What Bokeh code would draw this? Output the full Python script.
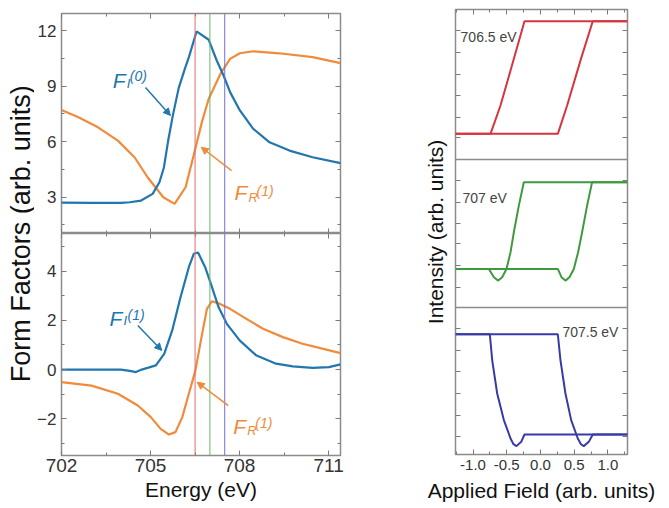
import numpy as np
from math import pi
from bokeh.plotting import figure
from bokeh.layouts import row, column
from bokeh.models import (Range1d, LinearAxis, FixedTicker, Span, Label, Arrow,
                          NormalHead, PrintfTickFormatter)
from bokeh.embed import file_html
from bokeh.resources import INLINE

# ---------------- data ----------------
energy_ticks = [702, 705, 708, 711]
energy_minor = [703.5, 706.5, 709.5]
top_ticks = [3, 6, 9, 12]
top_minor = [1.5, 4.5, 7.5, 10.5]
bot_ticks = [-2, 0, 2, 4]
bot_minor = [-3, -1, 1, 3, 5]

# F_I^(0)  (upper panel, blue)
fi0_E = [702.0, 703.0, 704.0, 704.3, 704.68, 705.07, 705.3, 705.45, 705.6, 705.75,
         705.95, 706.15, 706.3, 706.55, 706.96, 707.23, 707.46, 707.68, 708.01,
         708.46, 709.01, 709.68, 710.46, 711.4]
fi0_V = [2.70, 2.69, 2.69, 2.72, 2.81, 3.17, 3.8, 4.6, 6.1, 7.4,
         8.9, 9.9, 10.6, 11.95, 11.5, 10.38, 9.57, 8.67, 7.68,
         6.69, 5.96, 5.51, 5.15, 4.83]
# F_R^(1)  (upper panel, orange)
fr1a_E = [702.0, 702.57, 703.23, 703.9, 704.46, 704.9, 705.43, 705.81, 706.18,
          706.46, 706.73, 706.96, 707.37, 707.68, 708.01, 708.46, 709.34, 710.46, 711.4]
fr1a_V = [7.71, 7.31, 6.77, 6.05, 5.15, 4.07, 2.99, 2.63, 3.53,
          5.3, 7.05, 8.31, 9.7, 10.47, 10.77, 10.88, 10.77, 10.56, 10.24]
# F_I^(1)  (lower panel, blue)
fi1_E = [702.0, 703.0, 704.0, 704.3, 704.51, 704.7, 704.9, 705.18, 705.46, 705.73,
         706.01, 706.29, 706.46, 706.6, 706.84, 707.07, 707.29, 707.57, 708.01,
         708.57, 709.23, 709.79, 710.46, 711.01, 711.4]
fi1_V = [0.0, 0.0, 0.0, -0.05, -0.1, 0.0, 0.07, 0.17, 0.64, 1.59,
         2.94, 4.16, 4.71, 4.76, 4.16, 3.35, 2.54, 1.86, 1.18,
         0.57, 0.24, 0.13, 0.07, 0.10, 0.21]
# F_R^(1)  (lower panel, orange)
fr1b_E = [702.0, 703.01, 703.9, 704.57, 705.01, 705.34, 705.62, 705.84, 706.07,
          706.29, 706.51, 706.73, 706.9, 707.07, 707.34, 707.68, 708.23, 708.79,
          709.46, 710.12, 710.79, 711.4]
fr1b_V = [-0.51, -0.65, -0.98, -1.46, -1.93, -2.41, -2.64, -2.54, -1.93,
          -0.98, -0.04, 1.4, 2.47, 2.78, 2.67, 2.47, 2.06, 1.66,
          1.32, 1.05, 0.85, 0.67]

marker_E = [706.5, 707.0, 707.5]
marker_colors = ["#e06a6a", "#6ab56a", "#6f6fd0"]

# hysteresis loops (field, normalised intensity within each panel)
field_ticks = [-1.0, -0.5, 0.0, 0.5, 1.0]
field_minor = [-1.25, -0.75, -0.25, 0.25, 0.75, 1.25]
loop_labels = ["706.5 eV", "707 eV", "707.5 eV"]
loop_colors = ["#d6343e", "#3f9a3f", "#3a3aa6"]

red_up_x = [-1.26, 0.257, 0.395, 0.60, 0.775, 1.29]
red_up_y = [0.171, 0.171, 0.36, 0.671, 0.922, 0.922]
red_dn_x = [1.29, -0.237, -0.395, -0.593, -0.741, -1.26]
red_dn_y = [0.922, 0.922, 0.671, 0.36, 0.171, 0.171]

green_up_x = [-1.26, 0.257, 0.311, 0.370, 0.43, 0.494, 0.558, 0.617, 0.691, 0.765, 1.29]
green_up_y = [0.261, 0.261, 0.205, 0.182, 0.205, 0.261, 0.374, 0.509, 0.689, 0.847, 0.847]
green_dn_x = [1.29, -0.247, -0.321, -0.395, -0.444, -0.504, -0.568, -0.627, -0.691, -0.765, -1.26]
green_dn_y = [0.847, 0.847, 0.689, 0.509, 0.374, 0.261, 0.205, 0.182, 0.205, 0.261, 0.261]

blue_a_x = [-1.26, 0.257, 0.296, 0.37, 0.455, 0.553, 0.60, 0.642, 0.716, 0.775, 1.29]
blue_a_y = [0.818, 0.818, 0.642, 0.415, 0.234, 0.109, 0.07, 0.057, 0.086, 0.136, 0.136]
blue_b_x = [-1.26, -0.751, -0.716, -0.642, -0.543, -0.444, -0.40, -0.356, -0.286, -0.237, 1.29]
blue_b_y = [0.818, 0.818, 0.642, 0.415, 0.234, 0.109, 0.07, 0.057, 0.086, 0.136, 0.136]

# annotation anchors (data units) : label (x, y), arrow start, arrow end
ann_top_I = dict(x=703.73, y=9.30, sx=704.83, sy=8.92, ex=705.67, ey=7.41)
ann_top_R = dict(x=707.83, y=3.24, sx=707.73, sy=4.43, ex=706.71, ey=5.69)
ann_bot_I = dict(x=703.62, y=2.08, sx=704.57, sy=1.79, ex=705.38, ey=0.78)
ann_bot_R = dict(x=707.79, y=-2.31, sx=707.62, sy=-1.46, ex=706.57, ey=-0.51)

# ---------------- styling ----------------
FONT = "Liberation Sans"
BLUE = "#2276ae"
ORANGE = "#ef8b3a"
FRAME = "#8c8c8c"
TICK = "#7a7a7a"


def base_fig(w, h, xr, yr, **borders):
    p = figure(width=w, height=h, x_range=xr, y_range=yr, toolbar_location=None,
               output_backend="svg", x_axis_location=None, y_axis_location=None,
               **borders)
    p.outline_line_color = FRAME
    p.outline_line_width = 1.5
    p.background_fill_color = "white"
    p.border_fill_color = "white"
    for g in p.grid:
        g.visible = False
    return p


def add_axis(p, side, ticks, minor, labels=False, size="17px", standoff=4,
             label=None, label_size="21px", label_standoff=5, fmt=None,
             range_name=None):
    ax = LinearAxis(ticker=FixedTicker(ticks=ticks, minor_ticks=minor))
    if range_name is not None:
        ax.y_range_name = range_name
    ax.axis_line_color = None
    ax.major_tick_in = 5
    ax.major_tick_out = 0
    ax.minor_tick_in = 3
    ax.minor_tick_out = 0
    ax.major_tick_line_color = TICK
    ax.minor_tick_line_color = TICK
    ax.major_tick_line_width = 1
    if labels:
        ax.major_label_text_font = FONT
        ax.major_label_text_font_size = size
        ax.major_label_text_color = "#333333"
        ax.major_label_standoff = standoff
        if fmt is not None:
            ax.formatter = fmt
    else:
        # tick marks only: labels are neither sized nor painted
        ax.major_label_text_font_size = "0px"
        ax.major_label_text_color = None
        ax.major_label_text_alpha = 0
        ax.major_label_standoff = 0
    if label is not None:
        ax.axis_label = label
        ax.axis_label_text_font = FONT
        ax.axis_label_text_font_size = label_size
        ax.axis_label_text_font_style = "normal"
        ax.axis_label_text_color = "#111111"
        ax.axis_label_standoff = label_standoff
    p.add_layout(ax, side)
    return ax


def add_annotation(p, a, color, sub, sup, sub_dx, sub_dy, sup_dx, sup_dy):
    p.add_layout(Label(x=a["x"], y=a["y"], text="F", text_font=FONT,
                       text_font_size="21px", text_font_style="italic",
                       text_color=color, text_baseline="alphabetic"))
    p.add_layout(Label(x=a["x"], y=a["y"], x_offset=sub_dx, y_offset=sub_dy, text=sub,
                       text_font=FONT, text_font_size="13px", text_font_style="italic",
                       text_color=color, text_baseline="alphabetic"))
    p.add_layout(Label(x=a["x"], y=a["y"], x_offset=sup_dx, y_offset=sup_dy, text=sup,
                       text_font=FONT, text_font_size="14px", text_font_style="italic",
                       text_color=color, text_baseline="alphabetic"))
    p.add_layout(Arrow(end=NormalHead(size=7, fill_color=color, line_color=color),
                       x_start=a["sx"], y_start=a["sy"], x_end=a["ex"], y_end=a["ey"],
                       line_color=color, line_width=1.5))


# ---------------- y-label strip for the left plot ----------------
lab = figure(width=34, height=508, x_range=Range1d(0, 34), y_range=Range1d(0, 508),
             toolbar_location=None, output_backend="svg", x_axis_location=None,
             y_axis_location=None, min_border=0)
lab.outline_line_color = None
for g in lab.grid:
    g.visible = False
lab.add_layout(Label(x=20, y=252, text="Form Factors (arb. units)", angle=pi / 2,
                     text_align="center", text_baseline="middle", text_font=FONT,
                     text_font_size="27px", text_color="#111111"))

# ---------------- upper left panel ----------------
tl = base_fig(311, 233, Range1d(702, 711.4), Range1d(1.03, 12.92),
              min_border_left=24, min_border_right=5, min_border_top=13, min_border_bottom=0)
add_axis(tl, "left", top_ticks, top_minor, labels=True, size="17px", standoff=5)
add_axis(tl, "right", top_ticks, top_minor)
add_axis(tl, "above", energy_ticks, energy_minor)
add_axis(tl, "below", energy_ticks, energy_minor)
for e, c in zip(marker_E, marker_colors):
    tl.add_layout(Span(location=e, dimension="height", line_color=c, line_width=1))
tl.line(fr1a_E, fr1a_V, line_color=ORANGE, line_width=2.2)
tl.line(fi0_E, fi0_V, line_color=BLUE, line_width=2.2)
add_annotation(tl, ann_top_I, BLUE, "I", "(0)", 14, -3, 17, 4)
add_annotation(tl, ann_top_R, ORANGE, "R", "(1)", 14, -5, 22, 2)

# ---------------- lower left panel ----------------
bl = base_fig(311, 275, Range1d(702, 711.4), Range1d(-3.49, 5.53),
              min_border_left=24, min_border_right=5, min_border_top=0, min_border_bottom=53)
add_axis(bl, "left", bot_ticks, bot_minor, labels=True, size="17px", standoff=5)
add_axis(bl, "right", bot_ticks, bot_minor)
add_axis(bl, "above", energy_ticks, energy_minor)
add_axis(bl, "below", energy_ticks, energy_minor, labels=True, size="19px", standoff=3,
         label="Energy (eV)", label_size="21px", label_standoff=3)
for e, c in zip(marker_E, marker_colors):
    bl.add_layout(Span(location=e, dimension="height", line_color=c, line_width=1))
bl.line(fr1b_E, fr1b_V, line_color=ORANGE, line_width=2.2)
bl.line(fi1_E, fi1_V, line_color=BLUE, line_width=2.2)
add_annotation(bl, ann_bot_I, BLUE, "I", "(1)", 14, -2, 18, 3)
add_annotation(bl, ann_bot_R, ORANGE, "R", "(1)", 14, -4, 22, 3)

# ---------------- right plot: three stacked loops ----------------
rp = base_fig(322, 508, Range1d(-1.26, 1.29), Range1d(0, 3.027),
              min_border_left=110, min_border_right=40, min_border_top=9, min_border_bottom=54)
rp.extra_y_ranges = {"p1": Range1d(-1.967, 1.0), "p2": Range1d(-0.993, 2.014),
                     "p3": Range1d(0, 3.027)}
ytick_pos = [0.12, 0.268, 0.415, 0.563, 0.71, 0.857, 1.138, 1.286, 1.435, 1.571,
             1.716, 1.864, 2.156, 2.293, 2.442, 2.588, 2.735, 2.881]
add_axis(rp, "left", ytick_pos, [], label="Intensity (arb. units)", label_size="21px",
         label_standoff=9)
add_axis(rp, "right", ytick_pos, [])
add_axis(rp, "above", field_ticks, field_minor)
add_axis(rp, "below", field_ticks, field_minor, labels=True, size="15px", standoff=5,
         label="Applied Field (arb. units)", label_size="21px", label_standoff=6,
         fmt=PrintfTickFormatter(format="%.1f"))
for rn in ["p2", "p3"]:
    rp.add_layout(Span(location=1.0, dimension="width", y_range_name=rn,
                       line_color=FRAME, line_width=1.5))

rp.line(red_up_x, red_up_y, y_range_name="p1", line_color=loop_colors[0], line_width=2)
rp.line(red_dn_x, red_dn_y, y_range_name="p1", line_color=loop_colors[0], line_width=2)
rp.line(green_up_x, green_up_y, y_range_name="p2", line_color=loop_colors[1], line_width=2)
rp.line(green_dn_x, green_dn_y, y_range_name="p2", line_color=loop_colors[1], line_width=2)
rp.line(blue_a_x, blue_a_y, y_range_name="p3", line_color=loop_colors[2], line_width=2)
rp.line(blue_b_x, blue_b_y, y_range_name="p3", line_color=loop_colors[2], line_width=2)

rp.add_layout(Label(x=-1.185, y=0.817, y_range_name="p1", text=loop_labels[0],
                    text_font=FONT, text_font_size="14px", text_color="#444444",
                    text_baseline="middle", text_align="left"))
rp.add_layout(Label(x=-1.156, y=0.74, y_range_name="p2", text=loop_labels[1],
                    text_font=FONT, text_font_size="14px", text_color="#444444",
                    text_baseline="middle", text_align="left"))
rp.add_layout(Label(x=1.156, y=0.833, y_range_name="p3", text=loop_labels[2],
                    text_font=FONT, text_font_size="14px", text_color="#444444",
                    text_baseline="middle", text_align="right"))

layout = row(lab, column(tl, bl, spacing=0), rp, spacing=0)
open("out.html", "w").write(file_html(layout, INLINE))
